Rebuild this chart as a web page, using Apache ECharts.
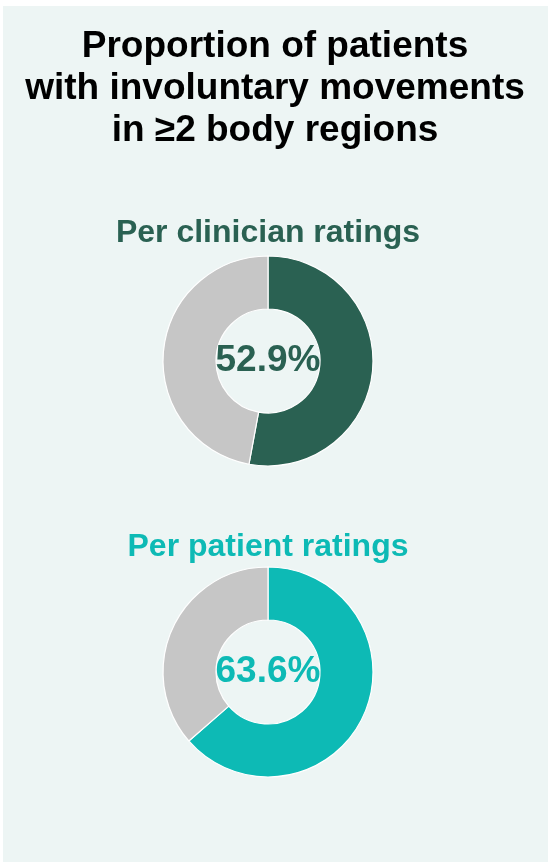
<!DOCTYPE html>
<html>
<head>
<meta charset="utf-8">
<script src="https://cdn.jsdelivr.net/npm/echarts@6/dist/echarts.min.js"></script>
<style>
  body { margin: 0; background: #fff; }
  #main { width: 552px; height: 865px; }
</style>
</head>
<body>
<div id="main"></div>
<script type="text/javascript">
// data
var categories = ['Involuntary movements in \u22652 body regions', 'Other'];
var clinicianValues = [52.9, 47.1];
var patientValues = [63.6, 36.4];
var panelTitles = ['Per clinician ratings', 'Per patient ratings'];

var font = 'Arial, "Liberation Sans", sans-serif';
var grey = '#C6C6C6';

function donut(values, color, cy) {
	return {
		type: 'pie',
		radius: [52, 105],
		center: [268, cy],
		startAngle: 90,
		clockwise: true,
		silent: true,
		emphasis: { disabled: true },
		labelLine: { show: false },
		itemStyle: { borderColor: '#ffffff', borderWidth: 1.2 },
		data: [
			{
				name: categories[0], value: values[0],
				itemStyle: { color: color },
				label: {
					show: true, position: 'center',
					formatter: '{c}%',
					color: color, fontSize: 37, fontWeight: 'bold', fontFamily: font
				}
			},
			{ name: categories[1], value: values[1], itemStyle: { color: grey }, label: { show: false } }
		]
	};
}

var chart = echarts.init(document.getElementById('main'));
chart.setOption({
	backgroundColor: '#ffffff',
	animation: false,
	graphic: [
		{ type: 'rect', z: -10, shape: { x: 3, y: 6, width: 545, height: 856 }, style: { fill: '#EDF5F4' } }
	],
	title: [
		{
			text: 'Proportion of patients\nwith involuntary movements\nin \u22652 body regions',
			left: 270, top: 21, textAlign: 'center',
			textStyle: { fontSize: 37, fontWeight: 'bold', color: '#000', lineHeight: 42, fontFamily: font }
		},
		{
			text: panelTitles[0],
			left: 263, top: 212, textAlign: 'center',
			textStyle: { fontSize: 32, fontWeight: 'bold', color: '#2A6152', fontFamily: font }
		},
		{
			text: panelTitles[1],
			left: 263, top: 526, textAlign: 'center',
			textStyle: { fontSize: 32, fontWeight: 'bold', color: '#0DBAB5', fontFamily: font }
		}
	],
	series: [
		donut(clinicianValues, '#2A6152', 361),
		donut(patientValues, '#0DBAB5', 672)
	]
});
</script>
</body>
</html>
